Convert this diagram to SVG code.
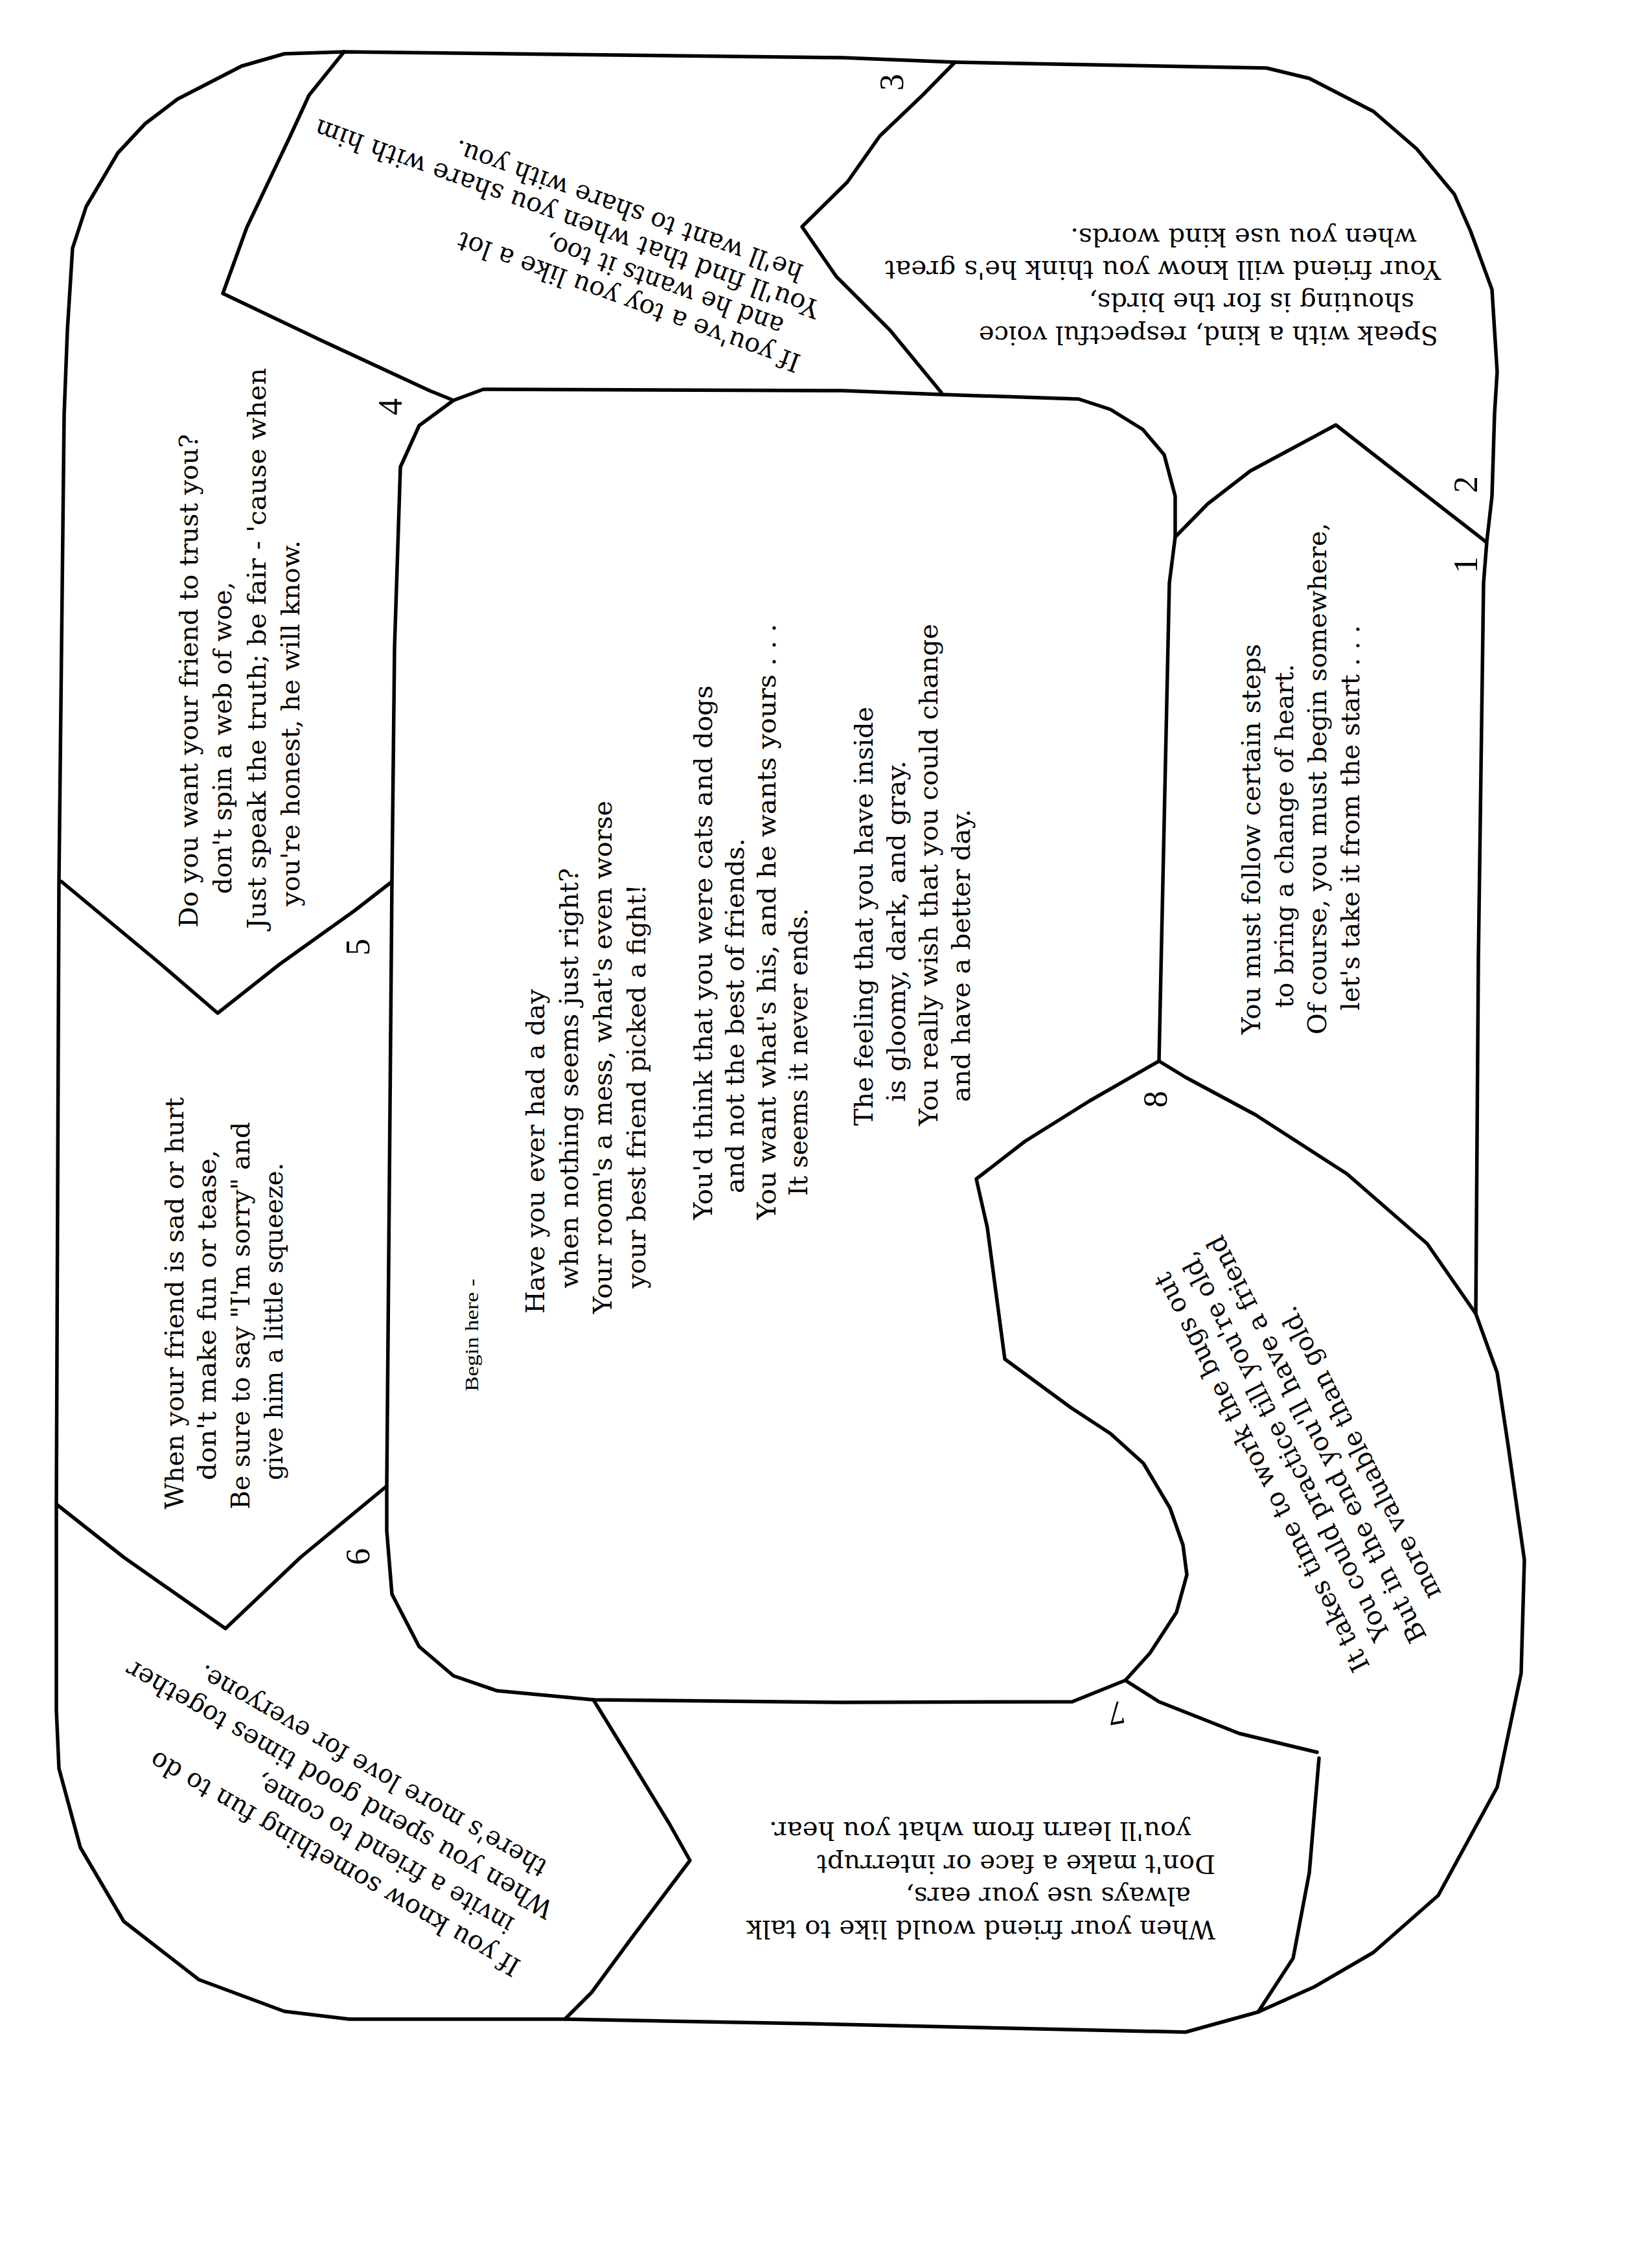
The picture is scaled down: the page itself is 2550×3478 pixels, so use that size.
<svg xmlns="http://www.w3.org/2000/svg" width="2550" height="3478" viewBox="0 0 2550 3478">
<style>
.ln{fill:none;stroke:#000;stroke-width:5.5;stroke-linejoin:round;stroke-linecap:round}
.t{font-family:"DejaVu Serif","Liberation Serif",serif;font-size:40px;fill:#000}
.c{font-family:"DejaVu Serif","Liberation Serif",serif;font-size:40px;fill:#000}
.n{font-family:"Liberation Serif","DejaVu Serif",serif;font-size:52px;fill:#000;text-anchor:middle;dominant-baseline:central}
.b{font-family:"Liberation Serif","DejaVu Serif",serif;font-size:30px;fill:#000}
</style>
<rect width="2550" height="3478" fill="#fff"/>
<g id="connectors">
<polygon id="outer" class="ln" points="99,640 104,510 112,383 133,319 182,236 224,191 274,153 373,102 439,83 531,80 1300,89 1474,96 1955,105 2021,121 2120,172 2187,230 2245,300 2270,357 2303,447 2311,574 2307,638 2303,766 2295,836 2290,900 2282,1480 2278,2028 2311,2119 2328,2232 2353,2408 2348,2583 2311,2759 2220,2926 2120,3014 2029,3067 1942,3106 1830,3137 1250,3124 872,3117 539,3117 439,3105 307,3056 191,2966 124,2852 91,2730 87,2640 87,2322 91,1361 95,1000"/>
<polygon id="inner" class="ln" points="700,618 746,601 1300,603 1453,609 1665,616 1714,632 1764,663 1797,702 1814,766 1814,829 1805,900 1789,1638 1681,1700 1582,1762 1507,1820 1524,1895 1551,2098 1653,2173 1714,2213 1765,2259 1806,2328 1826,2385 1832,2431 1816,2489 1775,2552 1737,2594 1655,2627 1300,2628 916,2624 767,2610 700,2587 647,2542 605,2461 597,2363 597,2294 605,1361 609,1000 618,721 647,657"/>
<polyline class="ln" points="531,80 477,147 448,210 381,351 344,453 497,526 663,603 700,618"/>
<polyline class="ln" points="1474,96 1424,147 1358,210 1308,281 1238,350 1291,427 1374,510 1453,606"/>
<polyline class="ln" points="1814,829 1864,778 1930,727 2062,656 2162,734 2293,836"/>
<polyline class="ln" points="1789,1638 1830,1663 1938,1721 2079,1812 2203,1920 2278,2028"/>
<polyline class="ln" points="1737,2594 1789,2627 1913,2676 2033,2705"/>
<polyline class="ln" points="2036,2714 2021,2891 1996,3023 1942,3106"/>
<polyline class="ln" points="916,2624 967,2707 1033,2815 1065,2872 977,2989 913,3076 872,3117"/>
<polyline class="ln" points="87,2322 191,2404 348,2514 464,2404 597,2294"/>
<polyline class="ln" points="95,1361 249,1489 336,1564 431,1489 547,1406 605,1361"/>
</g>
<g id="center">
<text class="b" transform="translate(738,2148) rotate(-90)" textLength="174" lengthAdjust="spacingAndGlyphs">Begin here -</text>
<text class="c" transform="translate(840,2028) rotate(-90)" textLength="501" lengthAdjust="spacingAndGlyphs">Have you ever had a day</text>
<text class="c" transform="translate(892,1989) rotate(-90)" textLength="649" lengthAdjust="spacingAndGlyphs">when nothing seems just right?</text>
<text class="c" transform="translate(944,2028) rotate(-90)" textLength="792" lengthAdjust="spacingAndGlyphs">Your room's a mess, what's even worse</text>
<text class="c" transform="translate(996,1989) rotate(-90)" textLength="624" lengthAdjust="spacingAndGlyphs">your best friend picked a fight!</text>
<text class="c" transform="translate(1099,1883) rotate(-90)" textLength="825" lengthAdjust="spacingAndGlyphs">You'd think that you were cats and dogs</text>
<text class="c" transform="translate(1148,1842) rotate(-90)" textLength="548" lengthAdjust="spacingAndGlyphs">and not the best of friends.</text>
<text class="c" transform="translate(1197,1883) rotate(-90)" textLength="920" lengthAdjust="spacingAndGlyphs">You want what's his, and he wants yours . . .</text>
<text class="c" transform="translate(1246,1846) rotate(-90)" textLength="444" lengthAdjust="spacingAndGlyphs">It seems it never ends.</text>
<text class="c" transform="translate(1347,1738) rotate(-90)" textLength="647" lengthAdjust="spacingAndGlyphs">The feeling that you have inside</text>
<text class="c" transform="translate(1397,1701) rotate(-90)" textLength="527" lengthAdjust="spacingAndGlyphs">is gloomy, dark, and gray.</text>
<text class="c" transform="translate(1447,1738) rotate(-90)" textLength="775" lengthAdjust="spacingAndGlyphs">You really wish that you could change</text>
<text class="c" transform="translate(1497,1701) rotate(-90)" textLength="452" lengthAdjust="spacingAndGlyphs">and have a better day.</text>
</g>
<g id="space-1">
<text class="n" transform="translate(2262,872) rotate(-90)">1</text>
<text class="t" transform="translate(1945,1597) rotate(-90)" textLength="603" lengthAdjust="spacingAndGlyphs">You must follow certain steps</text>
<text class="t" transform="translate(1996,1556) rotate(-90)" textLength="531" lengthAdjust="spacingAndGlyphs">to bring a change of heart.</text>
<text class="t" transform="translate(2047,1597) rotate(-90)" textLength="790" lengthAdjust="spacingAndGlyphs">Of course, you must begin somewhere,</text>
<text class="t" transform="translate(2098,1560) rotate(-90)" textLength="595" lengthAdjust="spacingAndGlyphs">let's take it from the start . . .</text>
</g>
<g id="space-2">
<text class="n" transform="translate(2262,748) rotate(-90)">2</text>
<text class="t" transform="translate(2220,504) rotate(180)" textLength="709" lengthAdjust="spacingAndGlyphs">Speak with a kind, respectful voice</text>
<text class="t" transform="translate(2183,453) rotate(180)" textLength="502" lengthAdjust="spacingAndGlyphs">shouting is for the birds,</text>
<text class="t" transform="translate(2224,403) rotate(180)" textLength="858" lengthAdjust="spacingAndGlyphs">Your friend will know you think he's great</text>
<text class="t" transform="translate(2187,353) rotate(180)" textLength="535" lengthAdjust="spacingAndGlyphs">when you use kind words.</text>
</g>
<g id="space-3">
<text class="n" transform="translate(1376,127) rotate(-90)">3</text>
<text class="t" transform="translate(1238,549) rotate(200)" textLength="560" lengthAdjust="spacingAndGlyphs">If you've a toy you like a lot</text>
<text class="t" transform="translate(1212,493) rotate(200)" textLength="389" lengthAdjust="spacingAndGlyphs">and he wants it too,</text>
<text class="t" transform="translate(1268,466) rotate(200)" textLength="826" lengthAdjust="spacingAndGlyphs">You'll find that when you share with him</text>
<text class="t" transform="translate(1242,410) rotate(200)" textLength="569" lengthAdjust="spacingAndGlyphs">he'll want to share with you.</text>
</g>
<g id="space-4">
<text class="n" transform="translate(602,628) rotate(-90)">4</text>
<text class="t" transform="translate(305,1432) rotate(-90)" textLength="762" lengthAdjust="spacingAndGlyphs">Do you want your friend to trust you?</text>
<text class="t" transform="translate(357,1380) rotate(-90)" textLength="482" lengthAdjust="spacingAndGlyphs">don't spin a web of woe,</text>
<text class="t" transform="translate(410,1434) rotate(-90)" textLength="866" lengthAdjust="spacingAndGlyphs">Just speak the truth; be fair - 'cause when</text>
<text class="t" transform="translate(462,1399) rotate(-90)" textLength="565" lengthAdjust="spacingAndGlyphs">you're honest, he will know.</text>
</g>
<g id="space-5">
<text class="n" transform="translate(552,1462) rotate(-90)">5</text>
<text class="t" transform="translate(283,2330) rotate(-90)" textLength="636" lengthAdjust="spacingAndGlyphs">When your friend is sad or hurt</text>
<text class="t" transform="translate(333,2285) rotate(-90)" textLength="510" lengthAdjust="spacingAndGlyphs">don't make fun or tease,</text>
<text class="t" transform="translate(385,2330) rotate(-90)" textLength="598" lengthAdjust="spacingAndGlyphs">Be sure to say "I'm sorry" and</text>
<text class="t" transform="translate(436,2285) rotate(-90)" textLength="490" lengthAdjust="spacingAndGlyphs">give him a little squeeze.</text>
</g>
<g id="space-6">
<text class="n" transform="translate(552,2403) rotate(-90)">6</text>
<text class="t" transform="translate(806,3028) rotate(210)" textLength="652" lengthAdjust="spacingAndGlyphs">If you know something fun to do</text>
<text class="t" transform="translate(796,2963) rotate(210)" textLength="453" lengthAdjust="spacingAndGlyphs">invite a friend to come,</text>
<text class="t" transform="translate(857,2939) rotate(210)" textLength="754" lengthAdjust="spacingAndGlyphs">When you spend good times together</text>
<text class="t" transform="translate(847,2875) rotate(210)" textLength="613" lengthAdjust="spacingAndGlyphs">there's more love for everyone.</text>
</g>
<g id="space-7">
<text class="n" transform="translate(1723,2645) rotate(170)">7</text>
<text class="t" transform="translate(1876,2965) rotate(180)" textLength="724" lengthAdjust="spacingAndGlyphs">When your friend would like to talk</text>
<text class="t" transform="translate(1838,2914) rotate(180)" textLength="440" lengthAdjust="spacingAndGlyphs">always use your ears,</text>
<text class="t" transform="translate(1876,2864) rotate(180)" textLength="615" lengthAdjust="spacingAndGlyphs">Don't make a face or interrupt</text>
<text class="t" transform="translate(1838,2813) rotate(180)" textLength="651" lengthAdjust="spacingAndGlyphs">you'll learn from what you hear.</text>
</g>
<g id="space-8">
<text class="n" transform="translate(1783,1697) rotate(-90)">8</text>
<text class="t" transform="translate(2115,2572) rotate(-117)" textLength="685" lengthAdjust="spacingAndGlyphs">It takes time to work the bugs out</text>
<text class="t" transform="translate(2147,2524) rotate(-117)" textLength="668" lengthAdjust="spacingAndGlyphs">You could practice till you're old,</text>
<text class="t" transform="translate(2203,2527) rotate(-117)" textLength="699" lengthAdjust="spacingAndGlyphs">But in the end you'll have a friend</text>
<text class="t" transform="translate(2225,2460) rotate(-117)" textLength="501" lengthAdjust="spacingAndGlyphs">more valuable than gold.</text>
</g>
</svg>
